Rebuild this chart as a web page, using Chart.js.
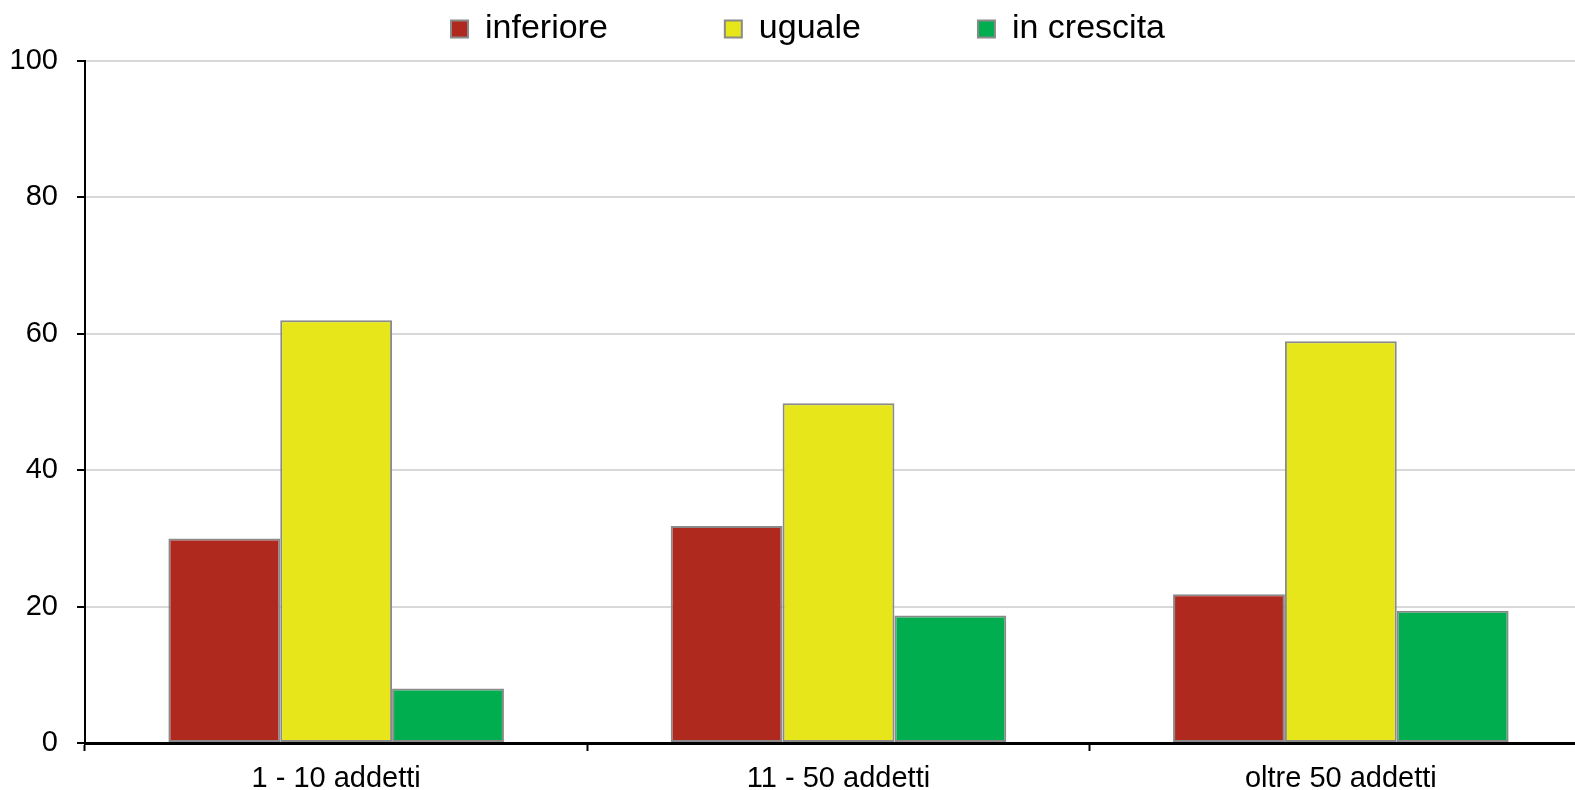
<!DOCTYPE html>
<html>
<head>
<meta charset="utf-8">
<script src="https://cdn.jsdelivr.net/npm/chart.js@4.4.0/dist/chart.umd.min.js"></script>
<style>
    html, body { margin: 0; padding: 0; background: #fff; overflow: hidden; }
    #wrap { position: relative; width: 1600px; height: 790px; }
</style>
</head>
<body>
<div id="wrap"><canvas id="barChart"></canvas></div>
<script>
// Dati del grafico
var categorie = ['1 - 10 addetti', '11 - 50 addetti', 'oltre 50 addetti'];
var serieNomi = ['inferiore', 'uguale', 'in crescita'];
var inferiore = [30.0, 31.8, 21.8];
var uguale = [62.0, 49.8, 58.9];
var inCrescita = [8.0, 18.7, 19.4];
var yTicks = [0, 20, 40, 60, 80, 100];

var colori = ['#B0291F', '#E6E61A', '#00AE4F'];
var fontName = "'Liberation Sans', Arial, sans-serif";

// sposta un po' la legenda a destra, come nell'originale
var spostaLegenda = {
    id: 'spostaLegenda',
    afterLayout: function(chart) {
        if (chart.legend) {
            chart.legend.left += 12;
            chart.legend.right += 12;
        }
    }
};

document.addEventListener('DOMContentLoaded', function() {
    var ctx = document.getElementById('barChart');
    var valori = [inferiore, uguale, inCrescita];

    new Chart(ctx, {
        type: 'bar',
        data: {
            labels: categorie,
            datasets: serieNomi.map(function(nome, i) {
                return {
                    label: nome,
                    data: valori[i],
                    backgroundColor: colori[i],
                    borderColor: '#8a8a8a',
                    borderWidth: 2,
                    borderSkipped: false,
                    categoryPercentage: 0.668,
                    barPercentage: 1
                };
            })
        },
        plugins: [spostaLegenda],
        options: {
            responsive: true,
            maintainAspectRatio: false,
            animation: false,
            layout: { padding: { top: -105, right: 8, bottom: 0, left: 0 } },
            plugins: {
                tooltip: { enabled: false },
                // spazio vuoto tra legenda e grafico
                subtitle: {
                    display: true,
                    text: '',
                    weight: 500,
                    font: { size: 1, lineHeight: 1 },
                    padding: { top: 0, bottom: 4 }
                },
                legend: {
                    position: 'top',
                    labels: {
                        color: '#000',
                        font: { family: fontName, size: 34 },
                        boxWidth: 17,
                        boxHeight: 17,
                        padding: 117
                    }
                }
            },
            scales: {
                x: {
                    afterFit: function(s) { s.height = 47; },
                    border: { display: true, color: '#000', width: 3 },
                    grid: {
                        offset: true,
                        drawOnChartArea: false,
                        drawTicks: true,
                        tickLength: 8,
                        tickColor: '#000',
                        tickWidth: 2
                    },
                    ticks: {
                        color: '#000',
                        padding: 11,
                        font: { family: fontName, size: 29 }
                    }
                },
                y: {
                    min: 0,
                    max: 100,
                    afterFit: function(s) { s.width = 85; },
                    afterBuildTicks: function(s) {
                        s.ticks = yTicks.map(function(v) { return { value: v }; });
                    },
                    border: { display: true, color: '#000', width: 2 },
                    grid: {
                        color: '#d9d9d9',
                        lineWidth: 2,
                        drawTicks: true,
                        tickLength: 8,
                        tickColor: '#000',
                        tickWidth: 2
                    },
                    ticks: {
                        color: '#000',
                        padding: 19,
                        font: { family: fontName, size: 29 }
                    }
                }
            }
        }
    });
});
</script>
</body>
</html>
